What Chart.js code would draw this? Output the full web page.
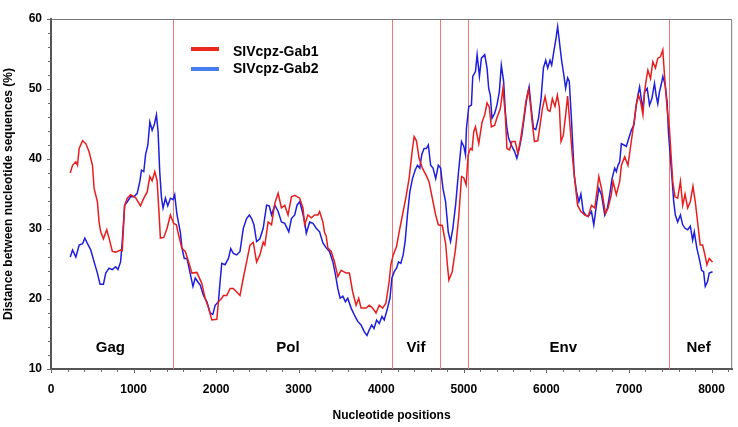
<!DOCTYPE html>
<html>
<head>
<meta charset="utf-8">
<script src="https://cdn.jsdelivr.net/npm/chart.js@4/dist/chart.umd.min.js"></script>
<style>
  html, body { margin: 0; padding: 0; background: #fff; }
  #wrap { width: 738px; height: 427px; }
</style>
</head>
<body>
<div id="wrap"><canvas id="distChart" width="738" height="427"></canvas></div>
<script>
// SIVcpz-Gab1 (red) - nucleotide position / distance (%)
const gab1Pos = [233,261,301,321,341,382,422,462,502,522,562,582,602,635,675,703,743,783,843,863,
  892,924,964,1024,1064,1084,1124,1165,1197,1225,1257,1285,1305,1325,1366,1406,1446,1486,1518,1546,
  1586,1627,1667,1707,1767,1827,1867,1908,1948,2008,2028,2068,2088,2129,2169,2209,2249,2289,2329,2369,
  2410,2450,2490,2530,2570,2590,2630,2671,2711,2751,2791,2831,2871,2912,2952,3012,3052,3072,3112,3153,
  3193,3233,3253,3293,3313,3333,3353,3394,3434,3474,3514,3575,3614,3654,3695,3727,3755,3816,3855,3895,
  3936,3976,4016,4056,4096,4116,4145,4185,4217,4257,4297,4337,4378,4398,4426,4458,4498,4538,4578,4618,
  4659,4691,4739,4779,4800,4819,4859,4900,4940,4972,5000,5028,5052,5080,5100,5120,5141,5181,5221,5253,
  5281,5309,5333,5373,5401,5442,5474,5502,5522,5554,5582,5622,5654,5683,5723,5751,5783,5803,5831,5855,
  5896,5924,5952,5984,6016,6044,6072,6104,6133,6157,6177,6205,6233,6257,6285,6313,6345,6377,6418,6466,
  6506,6546,6586,6635,6667,6715,6747,6787,6807,6847,6888,6908,6948,6988,7028,7057,7088,7116,7141,7169,
  7189,7209,7229,7261,7289,7321,7349,7382,7410,7430,7462,7490,7510,7530,7558,7590,7623,7651,7679,7711,
  7743,7775,7803,7831,7863,7892,7920,7944,7972,8012];
const gab1Dist = [38.0,39.1,39.6,39.1,41.5,42.6,42.2,41.0,39.1,35.8,33.9,31.0,29.6,28.6,29.9,28.7,26.8,26.7,27.0,26.9,
  33.4,34.4,34.9,34.5,33.7,33.3,34.4,35.3,37.5,36.9,38.2,36.9,33.0,28.7,28.8,30.1,32.0,30.8,30.6,29.1,
  27.2,26.8,25.3,23.7,23.8,22.2,20.1,18.7,17.0,17.1,19.6,20.1,20.5,20.5,21.5,21.5,21.0,20.5,23.0,25.3,
  27.7,28.1,25.3,26.3,28.1,27.7,31.0,30.6,33.7,35.1,33.0,33.4,32.0,34.6,34.8,34.4,33.0,30.6,32.0,31.6,
  32.0,32.0,32.5,31.0,29.5,29.0,27.3,26.8,25.3,23.2,24.1,23.7,23.7,21.0,19.1,20.1,18.7,18.7,19.1,18.7,
  18.0,19.1,18.7,19.4,22.5,24.9,26.3,27.5,29.6,32.0,34.4,37.2,41.5,43.2,42.6,40.1,38.7,37.8,36.8,34.4,
  32.0,30.6,30.5,28.0,25.0,22.7,23.9,27.2,32.0,37.5,37.3,36.3,40.6,41.5,41.3,43.9,44.6,42.2,45.3,46.3,
  48.0,47.4,44.6,44.8,45.9,47.2,50.1,46.3,41.5,41.3,42.5,42.5,40.8,42.5,45.6,48.2,49.9,48.2,44.9,42.5,
  42.6,44.9,47.2,48.9,47.0,46.8,48.6,47.5,49.1,47.4,42.5,43.4,46.3,49.0,44.9,40.6,36.8,33.4,32.5,32.0,
  31.8,33.4,33.0,37.5,35.8,32.2,33.0,34.9,36.8,34.9,36.8,39.1,40.3,39.1,42.5,44.9,47.7,49.1,48.2,46.3,
  49.6,51.3,52.7,51.5,53.9,53.0,54.4,54.6,55.6,52.0,47.2,44.4,40.6,36.8,34.6,34.4,36.8,33.4,35.0,33.0,
  33.9,36.1,33.9,31.0,27.7,27.7,26.3,24.9,25.8,25.3];

// SIVcpz-Gab2 (blue)
const gab2Pos = [233,261,301,341,382,410,442,482,522,562,594,635,663,703,743,783,811,843,863,892,
  924,964,1004,1044,1076,1096,1124,1145,1173,1197,1225,1253,1277,1297,1317,1337,1357,1386,1414,1446,
  1478,1498,1526,1566,1586,1614,1647,1687,1719,1747,1775,1807,1847,1888,1928,1960,1988,2028,2048,2068,
  2108,2149,2177,2209,2249,2289,2329,2369,2402,2430,2458,2490,2530,2570,2611,2643,2671,2711,2751,2791,
  2831,2880,2912,2952,2980,3012,3044,3072,3092,3133,3173,3213,3253,3293,3333,3373,3414,3446,3474,3502,
  3534,3566,3594,3635,3675,3715,3755,3795,3827,3855,3884,3912,3944,3976,4008,4036,4076,4105,4129,4157,
  4185,4209,4237,4265,4289,4317,4346,4378,4410,4438,4466,4490,4518,4546,4570,4598,4627,4659,4691,4719,
  4747,4779,4811,4839,4867,4900,4932,4972,5000,5020,5032,5060,5092,5108,5141,5161,5189,5213,5253,5281,
  5301,5321,5341,5373,5401,5430,5454,5482,5502,5522,5542,5582,5614,5642,5671,5703,5735,5763,5791,5815,
  5843,5871,5904,5936,5964,5992,6016,6044,6064,6096,6116,6136,6157,6185,6205,6233,6257,6277,6305,6337,
  6365,6393,6418,6446,6474,6506,6546,6574,6606,6635,6667,6707,6739,6767,6795,6827,6847,6867,6888,6908,
  6940,6968,6996,7028,7061,7088,7108,7129,7149,7169,7189,7221,7249,7277,7309,7329,7349,7369,7390,7410,
  7438,7462,7478,7502,7522,7542,7562,7590,7623,7651,7679,7711,7743,7771,7791,7823,7851,7880,7904,7924,
  7952,7972,8012];
const gab2Dist = [26.0,27.0,26.0,27.7,27.9,28.7,27.9,27.0,25.3,23.7,22.1,22.1,23.7,24.4,24.2,24.6,24.2,25.3,28.2,33.4,
  33.9,34.6,34.6,35.1,36.8,38.4,38.2,40.6,42.0,45.3,44.1,45.0,46.3,43.9,38.2,34.6,33.0,34.4,33.3,34.4,
  34.2,34.9,32.0,29.6,27.3,25.8,25.8,23.6,21.8,23.0,22.5,22.0,20.5,19.6,18.0,17.8,19.1,19.6,22.5,25.1,
  24.9,25.8,27.2,26.5,26.3,26.8,30.1,31.5,32.0,31.5,30.6,28.2,28.6,30.1,33.4,33.3,32.0,33.4,32.5,31.0,
  30.8,29.6,31.5,32.0,33.4,33.9,32.5,31.0,29.4,31.0,30.8,30.1,29.6,28.0,27.3,26.8,25.3,23.4,21.5,20.1,
  20.4,19.6,20.1,18.7,17.7,16.8,16.3,15.3,14.8,15.6,16.3,15.8,17.0,16.5,17.5,17.0,18.7,20.1,23.0,23.9,
  24.4,25.3,25.1,26.3,28.2,32.0,35.3,37.2,38.4,39.1,38.7,40.6,41.5,41.5,42.0,39.1,38.7,37.2,39.1,38.7,
  35.8,33.9,29.6,28.2,30.1,33.4,37.7,42.5,41.8,40.6,44.4,47.5,47.7,51.8,52.5,54.9,51.8,54.4,54.9,53.0,
  50.1,49.1,45.8,46.5,47.7,49.6,53.4,51.1,46.8,44.4,43.0,41.8,41.1,40.1,41.5,43.4,46.3,48.7,50.3,47.4,
  44.4,44.2,45.8,48.7,53.0,54.1,53.0,54.1,53.4,55.8,57.2,58.9,56.8,54.0,52.5,50.1,51.6,51.1,45.3,37.7,
  35.3,33.9,35.0,32.5,32.0,31.8,32.5,30.6,33.4,35.8,34.9,32.0,33.0,34.9,37.2,38.7,38.2,39.1,39.6,42.2,
  42.0,41.8,42.9,44.1,44.9,47.7,49.1,50.3,48.6,47.2,49.6,50.1,47.7,48.6,50.8,49.1,47.9,49.6,50.6,51.8,
  50.6,48.2,43.9,40.1,37.2,33.9,32.0,31.0,32.0,30.6,30.1,29.9,30.4,28.4,29.6,27.2,25.8,24.1,23.9,21.8,
  22.5,23.7,23.9];

// gene regions
const geneNames = ['Gag', 'Pol', 'Vif', 'Env', 'Nef'];
const geneCenters = [720, 2870, 4420, 6205, 7843];
const geneBounds = [1477, 4131, 4711, 5045, 7480];

// axis tick labels
const xTickValues = [0, 1000, 2000, 3000, 4000, 5000, 6000, 7000, 8000];
const yTickValues = [10, 20, 30, 40, 50, 60];

const seriesNames = ['SIVcpz-Gab1', 'SIVcpz-Gab2'];

const FONT = "'Liberation Sans', Arial, sans-serif";
const RED = 'rgb(232,30,30)';
const BLUE = 'rgb(30,30,222)';

const toPoints = (xs, ys) => xs.map((x, i) => ({ x: x, y: ys[i] }));

// draws gene boundaries, labels, frame, minor ticks and legend
const decorations = {
    id: 'decorations',
    beforeDatasetsDraw(chart) {
        const { ctx, chartArea: a, scales: { x, y } } = chart;
        ctx.save();
        ctx.strokeStyle = 'rgb(240,120,120)';
        ctx.lineWidth = 1;
        geneBounds.forEach(b => {
            const px = Math.round(x.getPixelForValue(b)) + 0.5;
            ctx.beginPath();
            ctx.moveTo(px, a.top);
            ctx.lineTo(px, a.bottom);
            ctx.stroke();
        });
        ctx.fillStyle = '#000';
        ctx.font = 'bold 15px ' + FONT;
        ctx.textAlign = 'center';
        ctx.textBaseline = 'middle';
        geneNames.forEach((g, i) => {
            ctx.fillText(g, x.getPixelForValue(geneCenters[i]), y.getPixelForValue(13));
        });
        ctx.restore();
    },
    afterDraw(chart) {
        const { ctx, chartArea: a, scales: { x, y } } = chart;
        ctx.save();
        //top + right frame
        ctx.strokeStyle = '#777';
        ctx.lineWidth = 1;
        ctx.beginPath();
        ctx.moveTo(a.left, a.top + 0.5);
        ctx.lineTo(a.right - 0.5, a.top + 0.5);
        ctx.lineTo(a.right - 0.5, a.bottom);
        ctx.stroke();
        //minor ticks
        ctx.strokeStyle = '#666';
        for (let v = 0; v <= 8200; v += 200) {
            const px = Math.round(x.getPixelForValue(v)) + 0.5;
            ctx.beginPath();
            ctx.moveTo(px, a.bottom);
            ctx.lineTo(px, a.bottom + (v % 1000 === 0 ? 4 : 3));
            ctx.stroke();
        }
        for (let v = 10; v <= 60; v += 2) {
            const py = Math.round(y.getPixelForValue(v)) + 0.5;
            ctx.beginPath();
            ctx.moveTo(a.left, py);
            ctx.lineTo(a.left - (v % 10 === 0 ? 4 : 3), py);
            ctx.stroke();
        }
        //legend
        const colors = ['rgb(235,40,30)', 'rgb(70,125,240)'];
        const rowsY = [49, 69];
        ctx.font = 'bold 14px ' + FONT;
        ctx.textAlign = 'left';
        ctx.textBaseline = 'middle';
        seriesNames.forEach((name, i) => {
            ctx.strokeStyle = colors[i];
            ctx.lineWidth = 4;
            ctx.beginPath();
            ctx.moveTo(191, rowsY[i]);
            ctx.lineTo(219, rowsY[i]);
            ctx.stroke();
            ctx.fillStyle = '#000';
            ctx.fillText(name, 233, rowsY[i] + (i === 0 ? 3 : 0));
        });
        ctx.restore();
    }
};

const config = {
    type: 'line',
    data: {
        datasets: [{
            label: seriesNames[0],
            data: toPoints(gab1Pos, gab1Dist),
            borderColor: RED,
            borderWidth: 1.5,
            pointRadius: 0,
            tension: 0
        }, {
            label: seriesNames[1],
            data: toPoints(gab2Pos, gab2Dist),
            borderColor: BLUE,
            borderWidth: 1.5,
            pointRadius: 0,
            tension: 0
        }]
    },
    options: {
        responsive: false,
        animation: false,
        layout: { padding: { top: 19, right: 4, left: 0, bottom: 0 } },
        plugins: {
            legend: { display: false },
            tooltip: { enabled: false }
        },
        scales: {
            x: {
                type: 'linear',
                min: 0,
                max: 8250,
                grid: { display: false, drawTicks: false },
                border: { display: true, color: '#555', width: 2 },
                afterBuildTicks: scale => { scale.ticks = xTickValues.map(v => ({ value: v })); },
                ticks: {
                    autoSkip: false,
                    maxRotation: 0,
                    padding: 13,
                    color: '#000',
                    font: { family: FONT, size: 12, weight: 'bold' },
                    callback: v => String(v)
                },
                title: {
                    display: true,
                    text: 'Nucleotide positions',
                    color: '#000',
                    font: { family: FONT, size: 12, weight: 'bold' },
                    padding: { top: 0, bottom: 4 }
                },
                afterFit: scale => { scale.height = 58; }
            },
            y: {
                min: 10,
                max: 60,
                grid: { display: false, drawTicks: false },
                border: { display: true, color: '#555', width: 2 },
                afterBuildTicks: scale => { scale.ticks = yTickValues.map(v => ({ value: v })); },
                ticks: {
                    autoSkip: false,
                    padding: 9,
                    color: '#000',
                    font: { family: FONT, size: 12, weight: 'bold' },
                    callback: v => String(v)
                },
                title: {
                    display: true,
                    text: 'Distance between nucleotide sequences (%)',
                    color: '#000',
                    font: { family: FONT, size: 12, weight: 'bold' },
                    padding: { top: 1, bottom: 0 }
                },
                afterFit: scale => { scale.width = 51; }
            }
        }
    },
    plugins: [decorations]
};

new Chart(document.getElementById('distChart'), config);
</script>
</body>
</html>
